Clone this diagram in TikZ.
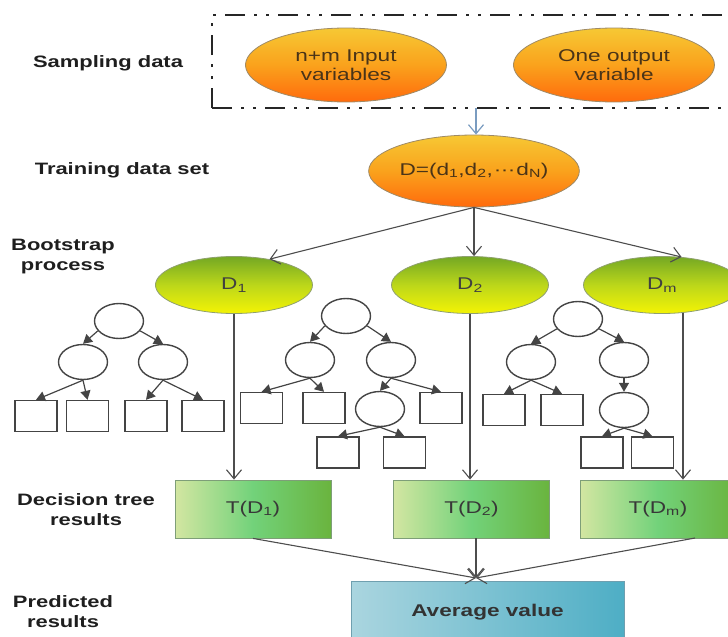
\documentclass[tikz,border=0pt]{standalone}
\usepackage{fontspec}
\setmainfont{Liberation Sans}[FakeStretch=1.33]
\usetikzlibrary{arrows.meta,shapes.geometric}

\definecolor{orTop}{HTML}{F6C834}
\definecolor{orMid}{HTML}{FAA21C}
\definecolor{orBot}{HTML}{FF6A0C}
\definecolor{ovalRim}{HTML}{9E8A66}
\definecolor{grTop}{HTML}{74A824}
\definecolor{grMid}{HTML}{BCD71A}
\definecolor{grBot}{HTML}{F4F404}
\definecolor{grRim}{HTML}{8FA070}
\definecolor{tLeft}{HTML}{D3E6A2}
\definecolor{tMid}{HTML}{72D27A}
\definecolor{tRight}{HTML}{6AB43E}
\definecolor{tRim}{HTML}{7E9E78}
\definecolor{avLeft}{HTML}{AAD5DF}
\definecolor{avRight}{HTML}{4EAEC5}
\definecolor{avRim}{HTML}{6F9FAF}
\definecolor{treeLine}{HTML}{444444}
\definecolor{flowGray}{HTML}{4D4D4D}
\definecolor{feedBlue}{HTML}{7A9CC0}
\definecolor{boxLine}{HTML}{262626}
\definecolor{labelInk}{HTML}{1E1E1E}
\definecolor{ovalInk}{HTML}{4A3418}

\begin{document}
\begin{tikzpicture}[x=1pt,y=-1pt,
  rowlabel/.style={font=\bfseries\fontsize{16.5}{20}\selectfont, text=labelInk, align=center},
  dataoval/.style={ellipse, draw=ovalRim, line width=0.8pt, inner sep=0pt,
    top color=orTop, bottom color=orBot, middle color=orMid,
    minimum width=201pt, minimum height=74pt, align=center, text=ovalInk,
    font=\fontsize{17}{19}\selectfont},
  bootoval/.style={ellipse, draw=grRim, line width=0.8pt, inner sep=0pt,
    top color=grTop, bottom color=grBot, middle color=grMid,
    minimum width=157pt, minimum height=57pt, text=black!75,
    font=\fontsize{17}{19}\selectfont},
  resultbox/.style={rectangle, draw=tRim, line width=0.8pt, inner sep=0pt,
    left color=tLeft, right color=tRight, middle color=tMid,
    minimum width=156pt, minimum height=58pt, text=black!78,
    font=\fontsize{17}{19}\selectfont},
  avgbox/.style={rectangle, draw=avRim, line width=0.8pt, inner sep=0pt,
    left color=avLeft, right color=avRight,
    minimum width=273pt, minimum height=62pt, text=black!80,
    font=\bfseries\fontsize{17}{19}\selectfont},
  split/.style={ellipse, draw=treeLine, line width=1.4pt, fill=white,
    minimum width=49pt, minimum height=35pt, inner sep=0pt},
  leaf/.style={rectangle, draw=treeLine, line width=1.4pt, fill=white,
    minimum width=42pt, minimum height=31pt, inner sep=0pt},
  treearrow/.style={draw=treeLine, line width=1.2pt, -{Triangle[length=9pt,width=10pt]}},
  flow/.style={draw=flowGray, line width=1.1pt, -{Straight Barb[length=9pt,width=15pt]}},
  feed/.style={draw=feedBlue, line width=1.2pt, -{Straight Barb[length=9pt,width=15pt]}},
  dashdotdot/.style={draw=boxLine, line width=1.9pt,
    dash pattern=on 20pt off 9pt on 3pt off 9pt on 3pt off 9pt}
]
\useasboundingbox (0,0) rectangle (728,637);
\clip (0,0) rectangle (728,637);

% row labels
\node[rowlabel] (lsamp)  at (108,63)  {Sampling data};
\node[rowlabel] (ltrain) at (122,170) {Training data set};
\node[rowlabel] (lboot)  at (63,257)  {Bootstrap\\process};
\node[rowlabel] (ltree)  at (86,510)  {Decision tree\\results};
\node[rowlabel] (lpred)  at (63,612)  {Predicted\\results};

% sampled data frame
\coordinate (frameBL) at (212,108);
\coordinate (frameTL) at (212,15);
\coordinate (frameTR) at (745,15);
\coordinate (frameBR) at (745,108);
\draw[dashdotdot] (frameBL) -- (frameTL) -- (frameTR);
\draw[dashdotdot] (frameBL) -- (frameBR);

\node[dataoval] (inputs)  at (346,65)  {n+m Input\\variables};
\node[dataoval] (outputs) at (614,65)  {One output\\variable};

% training set
\node[dataoval, minimum width=205pt, minimum height=72pt] (train) at (474,171)
  {D=(d\textsubscript{1},d\textsubscript{2},\kern1pt\textperiodcentered\kern-0.5pt\textperiodcentered\kern-0.5pt\textperiodcentered\kern1pt d\textsubscript{N})};
\coordinate (frameOut) at (476,108);
\draw[feed] (frameOut) -- (frameOut |- train.north);

% bootstrap samples
\node[bootoval] (D1) at (234,285) {D\textsubscript{1}};
\node[bootoval] (D2) at (470,285) {D\textsubscript{2}};
\node[bootoval] (Dm) at (662,285) {D\textsubscript{m}};

\draw[flow] (train.south) -- (D1.36);
\draw[flow] (train.south) -- (train.south |- D2.north);
\draw[flow] (train.south) -- (Dm.55);

% decision tree results
\node[resultbox] (T1) at (253,509)   {T(D\textsubscript{1})};
\node[resultbox] (T2) at (471.5,509) {T(D\textsubscript{2})};
\node[resultbox] (Tm) at (658,509)   {T(D\textsubscript{m})};

\draw[flow] (D1.south) -- (D1.south |- T1.north);
\draw[flow] (D2.south) -- (D2.south |- T2.north);
\draw[flow] (Dm.-53) -- (Dm.-53 |- Tm.north);

% averaging
\node[avgbox] (avg) at (487.5,612) {Average value};
\coordinate (avgIn) at (476,578);
\coordinate (TmOut) at (695,538);
\draw[flow] (T1.south) -- (avgIn);
\draw[flow] (T2.south -| avgIn) -- (avgIn);
\draw[flow] (TmOut) -- (avgIn);

% tree grown on D1
\node[split] (r1) at (119,321) {};
\node[split] (a1) at (83,362)  {};
\node[split] (b1) at (163,362) {};
\node[leaf] (s11) at (36,416)   {};
\node[leaf] (s12) at (87.5,416) {};
\node[leaf] (s13) at (146,416)  {};
\node[leaf] (s14) at (203,416)  {};
\draw[treearrow] (r1.205) -- (a1.north);
\draw[treearrow] (r1.-25) -- (b1.north);
\draw[treearrow] (a1.south) -- (s11.north);
\draw[treearrow] (a1.south) -- (s12.north);
\draw[treearrow] (b1.south) -- (s13.north);
\draw[treearrow] (b1.south) -- (s14.north);

% tree grown on D2
\node[split] (r2) at (346,316) {};
\node[split] (a2) at (310,360) {};
\node[split] (b2) at (391,360) {};
\node[split] (c2) at (380,409) {};
\node[leaf] (s21) at (261.5,408) {};
\node[leaf] (s22) at (324,408)   {};
\node[leaf] (s23) at (441,408)   {};
\node[leaf] (s24) at (338,452.5) {};
\node[leaf] (s25) at (404.5,452.5) {};
\draw[treearrow] (r2.205) -- (a2.north);
\draw[treearrow] (r2.-25) -- (b2.north);
\draw[treearrow] (a2.south) -- (s21.north);
\draw[treearrow] (a2.south) -- (s22.north);
\draw[treearrow] (b2.south) -- (c2.north);
\draw[treearrow] (b2.south) -- (s23.north);
\draw[treearrow] (c2.south) -- (s24.north);
\draw[treearrow] (c2.south) -- (s25.north);

% tree grown on Dm
\node[split] (r3) at (578,319) {};
\node[split] (a3) at (531,362) {};
\node[split] (b3) at (624,360) {};
\node[split] (c3) at (624,410) {};
\node[leaf] (s31) at (504,410)   {};
\node[leaf] (s32) at (562,410)   {};
\node[leaf] (s33) at (602,452.5) {};
\node[leaf] (s34) at (652.5,452.5) {};
\draw[treearrow] (r3.205) -- (a3.north);
\draw[treearrow] (r3.-25) -- (b3.north);
\draw[treearrow] (a3.south) -- (s31.north);
\draw[treearrow] (a3.south) -- (s32.north);
\draw[treearrow] (b3.south) -- (c3.north);
\draw[treearrow] (c3.south) -- (s33.north);
\draw[treearrow] (c3.south) -- (s34.north);
\end{tikzpicture}
\end{document}
